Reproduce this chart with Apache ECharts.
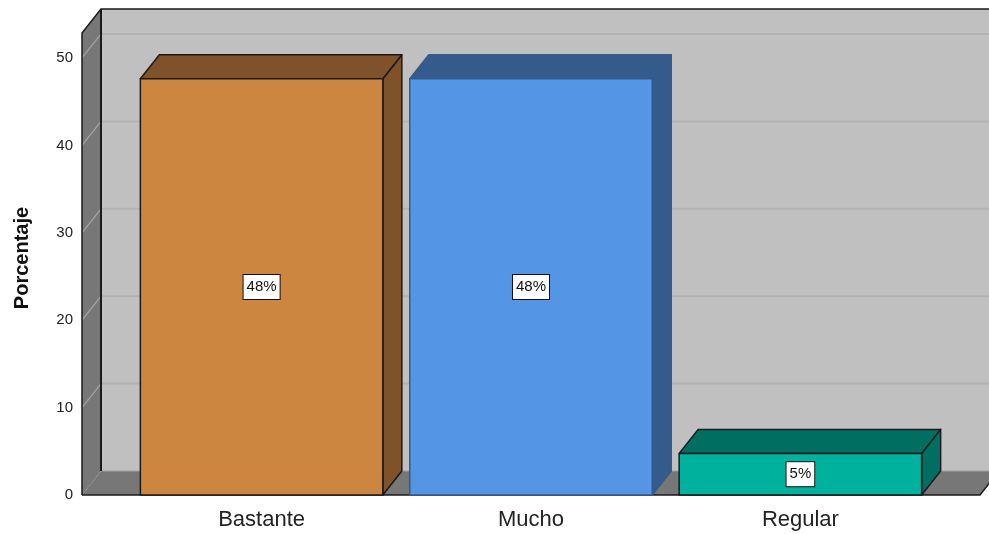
<!DOCTYPE html>
<html>
<head>
<meta charset="utf-8">
<script src="https://cdn.jsdelivr.net/npm/echarts@6/dist/echarts.min.js"></script>
<style>
  html, body { margin: 0; padding: 0; background: #ffffff; }
  #chart { width: 989px; height: 534px; }
</style>
</head>
<body>
<div id="chart"></div>
<script>
// ---- Data ----
const categories = ['Bastante', 'Mucho', 'Regular'];
const percentValues = [47.62, 47.62, 4.76];
const barLabels = ['48%', '48%', '5%'];
const yTickValues = [10, 20, 30, 40, 50];

// ---- Styles ----
const FONT = '"Liberation Sans", Arial, sans-serif';
const frontColors = ['#CC863F', '#5595E5', '#00B29E'];
const darkColors = ['#7F5229', '#345B8B', '#006E61'];
const edgeColors = ['#1a1a1a', '#345B8B', '#1a1a1a'];
const DEPTH = { dx: 19, dy: -24 };
const X_MIN = -2 / 3, X_MAX = 8 / 3, Y_MAX = 52.86;
const HALF_W = 0.45;

const chart = echarts.init(document.getElementById('chart'), null, { renderer: 'canvas' });

function renderFrame(params, api) {
  const dx = DEPTH.dx, dy = DEPTH.dy;
  const fl = api.coord([X_MIN, 0]);
  const fr = api.coord([X_MAX, 0]);
  const tl = api.coord([X_MIN, Y_MAX]);
  const children = [];
  children.push({
    type: 'rect',
    shape: { x: fl[0] + dx, y: tl[1] + dy, width: fr[0] - fl[0] + 40, height: fl[1] - tl[1] },
    style: { fill: '#C0C0C0' }
  });
  yTickValues.forEach(function (t) {
    const p = api.coord([X_MIN, t]);
    children.push({
      type: 'line',
      shape: { x1: fl[0] + dx, y1: p[1] + dy, x2: fr[0] + dx + 40, y2: p[1] + dy },
      style: { stroke: '#B2B2B2', lineWidth: 2 }
    });
  });
  children.push({
    type: 'polygon',
    shape: { points: [fl, tl, [tl[0] + dx, tl[1] + dy], [fl[0] + dx, fl[1] + dy]] },
    style: { fill: '#777777' }
  });
  yTickValues.forEach(function (t) {
    const p = api.coord([X_MIN, t]);
    children.push({
      type: 'line',
      shape: { x1: p[0], y1: p[1], x2: p[0] + dx, y2: p[1] + dy },
      style: { stroke: '#A6A6A6', lineWidth: 1.2 }
    });
  });
  children.push({
    type: 'polygon',
    shape: { points: [fl, [fl[0] + dx, fl[1] + dy], [fr[0] + dx, fr[1] + dy], fr] },
    style: { fill: '#777777' }
  });
  children.push({
    type: 'line',
    shape: { x1: fl[0] + dx, y1: fl[1] + dy, x2: fr[0] + dx + 40, y2: fl[1] + dy },
    style: { stroke: '#A0A0A0', lineWidth: 1 }
  });
  children.push({
    type: 'polyline',
    shape: { points: [fl, tl, [tl[0] + dx, tl[1] + dy], [fr[0] + dx + 40, tl[1] + dy]] },
    style: { stroke: '#1a1a1a', lineWidth: 1.5, fill: null }
  });
  children.push({
    type: 'line',
    shape: { x1: tl[0] + dx, y1: tl[1] + dy, x2: fl[0] + dx, y2: fl[1] + dy },
    style: { stroke: '#1a1a1a', lineWidth: 2 }
  });
  children.push({
    type: 'polyline',
    shape: { points: [fl, fr, [fr[0] + dx, fr[1] + dy]] },
    style: { stroke: '#1a1a1a', lineWidth: 1.5, fill: null }
  });
  return { type: 'group', children: children };
}

function renderBar(params, api) {
  const dx = DEPTH.dx, dy = DEPTH.dy;
  const i = params.dataIndex;
  const x = api.value(0);
  const v = api.value(1);
  const lt = api.coord([x - HALF_W, v]);
  const rb = api.coord([x + HALF_W, 0]);
  const edge = { stroke: edgeColors[i], lineWidth: 1.5, lineJoin: 'round' };
  const midX = (lt[0] + rb[0]) / 2;
  const midY = (lt[1] + rb[1]) / 2;
  return {
    type: 'group',
    children: [
      {
        type: 'polygon',
        shape: { points: [[rb[0], lt[1]], [rb[0] + dx, lt[1] + dy], [rb[0] + dx, rb[1] + dy], rb] },
        style: Object.assign({ fill: darkColors[i] }, edge)
      },
      {
        type: 'polygon',
        shape: { points: [lt, [lt[0] + dx, lt[1] + dy], [rb[0] + dx, lt[1] + dy], [rb[0], lt[1]]] },
        style: Object.assign({ fill: darkColors[i] }, edge)
      },
      {
        type: 'rect',
        shape: { x: lt[0], y: lt[1], width: rb[0] - lt[0], height: rb[1] - lt[1] },
        style: Object.assign({ fill: frontColors[i] }, edge)
      },
      {
        type: 'text',
        x: midX, y: midY,
        style: {
          text: barLabels[i], align: 'center', verticalAlign: 'middle',
          fontFamily: FONT, fontSize: 15, fill: '#111',
          backgroundColor: '#ffffff', borderColor: '#111', borderWidth: 1,
          padding: [5, 3, 4, 3]
        }
      },
      {
        type: 'text',
        x: midX, y: rb[1] + 25,
        style: {
          text: categories[i], align: 'center', verticalAlign: 'middle',
          fontFamily: FONT, fontSize: 22, fill: '#222'
        }
      }
    ]
  };
}

const option = {
  animation: false,
  backgroundColor: '#ffffff',
  grid: { left: 82, right: 9, top: 33, bottom: 39, containLabel: false, outerBoundsMode: 'none' },
  xAxis: { type: 'value', min: X_MIN, max: X_MAX, show: false },
  yAxis: {
    type: 'value', min: 0, max: Y_MAX, interval: 10,
    name: 'Porcentaje', nameLocation: 'middle', nameGap: 50,
    nameTextStyle: { fontFamily: FONT, fontSize: 20, fontWeight: 'bold', color: '#111', padding: [0, 0, 0, 12] },
    axisLine: { show: false }, axisTick: { show: false }, splitLine: { show: false },
    axisLabel: {
      margin: 9, fontFamily: FONT, fontSize: 15, color: '#222', padding: [4, 0, 0, 0],
      formatter: function (v) { return (Math.abs(v % 10) < 1e-9) ? String(v) : ''; }
    }
  },
  series: [
    { type: 'custom', name: 'frame', data: [[0, 0]], renderItem: renderFrame, silent: true, z: 1 },
    {
      type: 'custom', name: 'bars', z: 2,
      data: categories.map(function (c, i) { return [i, percentValues[i]]; }),
      renderItem: renderBar
    }
  ]
};
chart.setOption(option);
</script>
</body>
</html>
